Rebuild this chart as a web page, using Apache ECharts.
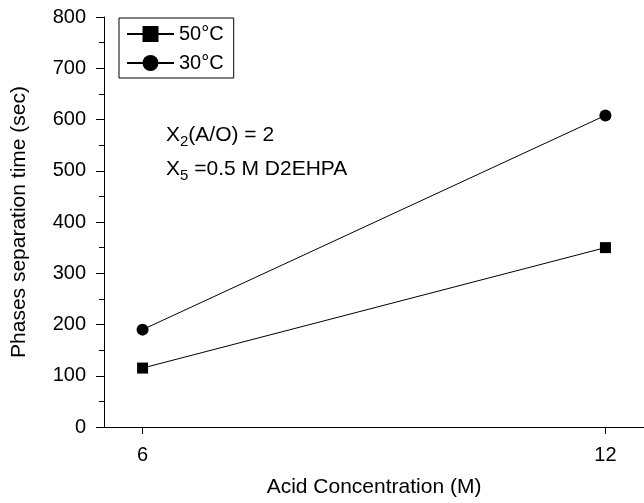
<!DOCTYPE html>
<html>
<head>
<meta charset="utf-8">
<script src="https://cdn.jsdelivr.net/npm/echarts@6/dist/echarts.min.js"></script>
<style>html,body{margin:0;padding:0;background:#fff}#c{width:644px;height:503px}</style>
</head>
<body>
<div id="c"></div>
<script>
var xValues = [6, 12];
var series50 = [115, 350];
var series30 = [190, 608];
var seriesNames = ['50°C', '30°C'];
var xTickLabels = [6, 12];
var yTickLabels = [0, 100, 200, 300, 400, 500, 600, 700, 800];

var FONT = 'Liberation Sans, Arial, Helvetica, sans-serif';
var chart = echarts.init(document.getElementById('c'), null, {renderer: 'canvas'});
function pairs(xs, ys) { return xs.map(function (x, i) { return [x, ys[i]]; }); }

chart.setOption({
  animation: false,
  backgroundColor: '#fff',
  textStyle: {fontFamily: FONT, color: '#000'},
  grid: {left: 104, right: 0, top: 17, bottom: 70},
  legend: {
    orient: 'vertical', left: 119, top: 18,
    borderColor: '#000', borderWidth: 1, borderRadius: 0,
    padding: [6, 10, 5, 7],
    itemWidth: 47, itemHeight: 20, itemGap: 9,
    textStyle: {fontSize: 20, fontFamily: FONT, color: '#000'},
    data: seriesNames
  },
  xAxis: {
    type: 'value', min: 5.5, max: 12.5,
    name: 'Acid Concentration (M)', nameLocation: 'middle', nameGap: 50,
    nameTextStyle: {fontSize: 21, fontFamily: FONT, color: '#000'},
    axisLine: {lineStyle: {color: '#000', width: 1}},
    axisTick: {customValues: xTickLabels, length: 7, lineStyle: {color: '#000'}},
    axisLabel: {customValues: xTickLabels, margin: 18, fontSize: 20, fontFamily: FONT, color: '#000'},
    splitLine: {show: false}
  },
  yAxis: {
    type: 'value', min: 0, max: 800, interval: 100,
    name: 'Phases separation time (sec)', nameLocation: 'middle', nameGap: 74,
    nameTextStyle: {fontSize: 21, fontFamily: FONT, color: '#000'},
    axisLine: {show: true, lineStyle: {color: '#000', width: 1}},
    axisTick: {show: true, length: 8, lineStyle: {color: '#000'}},
    minorTick: {show: true, splitNumber: 2, length: 5, lineStyle: {color: '#000'}},
    axisLabel: {margin: 18, fontSize: 20, fontFamily: FONT, color: '#000',
      formatter: function (v) { return yTickLabels.indexOf(v) >= 0 ? String(v) : ''; }},
    splitLine: {show: false}
  },
  graphic: [{
    type: 'text', left: 166, top: 122,
    style: {
      text: '{n|X}{s|2}{n|(A/O) = 2}\n{n|X}{s|5}{n| =0.5 M D2EHPA}',
      rich: {
        n: {fontSize: 21, fontFamily: FONT, fill: '#000', lineHeight: 34},
        s: {fontSize: 15, fontFamily: FONT, fill: '#000', lineHeight: 34, padding: [12, 0, 0, 0]}
      }
    }
  }],
  series: [{
    name: seriesNames[0], type: 'line', data: pairs(xValues, series50),
    symbol: 'rect', symbolSize: 11,
    lineStyle: {color: '#000', width: 1}, itemStyle: {color: '#000'}
  }, {
    name: seriesNames[1], type: 'line', data: pairs(xValues, series30),
    symbol: 'circle', symbolSize: 12,
    lineStyle: {color: '#000', width: 1}, itemStyle: {color: '#000'}
  }]
});
</script>
</body>
</html>
